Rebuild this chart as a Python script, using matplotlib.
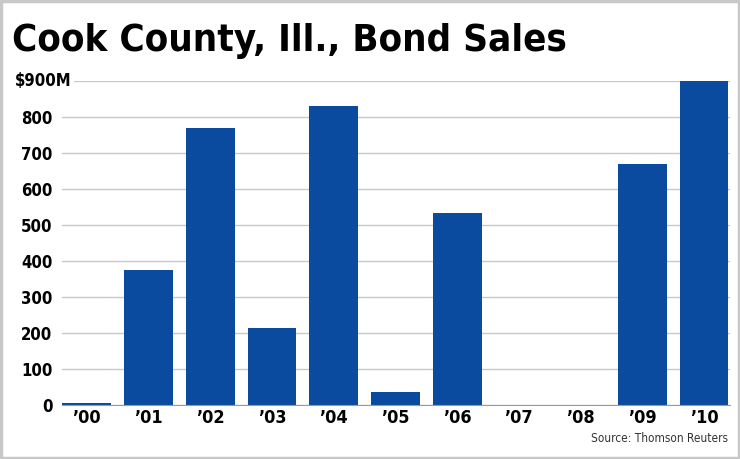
import matplotlib.pyplot as plt
from matplotlib.patches import Rectangle

years = ['\u201900', '\u201901', '\u201902', '\u201903', '\u201904', '\u201905',
         '\u201906', '\u201907', '\u201908', '\u201909', '\u201910']
sales = [5, 375, 769, 214, 830, 36, 533, 0, 0, 670, 900]
yticks = [0, 100, 200, 300, 400, 500, 600, 700, 800, 900]
ylabels = ['0', '100', '200', '300', '400', '500', '600', '700', '800', '']

plt.rcParams['font.family'] = ['DejaVu Sans']
plt.rcParams['font.stretch'] = 'condensed'

fig = plt.figure(figsize=(7.4, 4.59), dpi=100)
fig.patches.append(Rectangle((0.002, 0.003), 0.996, 0.994, transform=fig.transFigure,
                             fill=False, edgecolor='#c8c8c8', linewidth=2.5))

ax = fig.add_axes([62 / 740, 1 - 405 / 459, 668 / 740, 324 / 459])
x = range(len(years))
ax.bar(x, sales, width=0.79, color='#0a4a9f', zorder=3, clip_on=False)
ax.set_xlim(-0.4, 10.42)
ax.set_ylim(0, 900)
ax.set_yticks(yticks)
ax.set_yticklabels(ylabels, fontsize=12, fontweight='bold')
ax.set_xticks(list(x))
ax.set_xticklabels(years, fontsize=13, fontweight='bold')
ax.grid(axis='y', color='#c8c8c8', linewidth=1, zorder=0)
ax.tick_params(axis='y', length=0, pad=7)
ax.tick_params(axis='x', length=0, pad=3)
for s in ['top', 'right', 'left']:
    ax.spines[s].set_visible(False)
ax.spines['bottom'].set_color('#9a9a9a')
ax.spines['bottom'].set_zorder(4)

# top label runs over the gridline start
fig.text(72 / 740, 1 - 81 / 459, '$900M', fontsize=12, fontweight='bold',
         va='center', ha='right', zorder=5,
         bbox=dict(facecolor='white', edgecolor='none', pad=1.5))

fig.text(12 / 740, 1 - 41 / 459, 'Cook County, Ill., Bond Sales', fontsize=27.5,
         fontweight='heavy', va='center', ha='left')
fig.text(728 / 740, 1 - 438 / 459, 'Source: Thomson Reuters', fontsize=8.5,
         va='center', ha='right', color='#333333')

fig.savefig('out.png', dpi=100)
